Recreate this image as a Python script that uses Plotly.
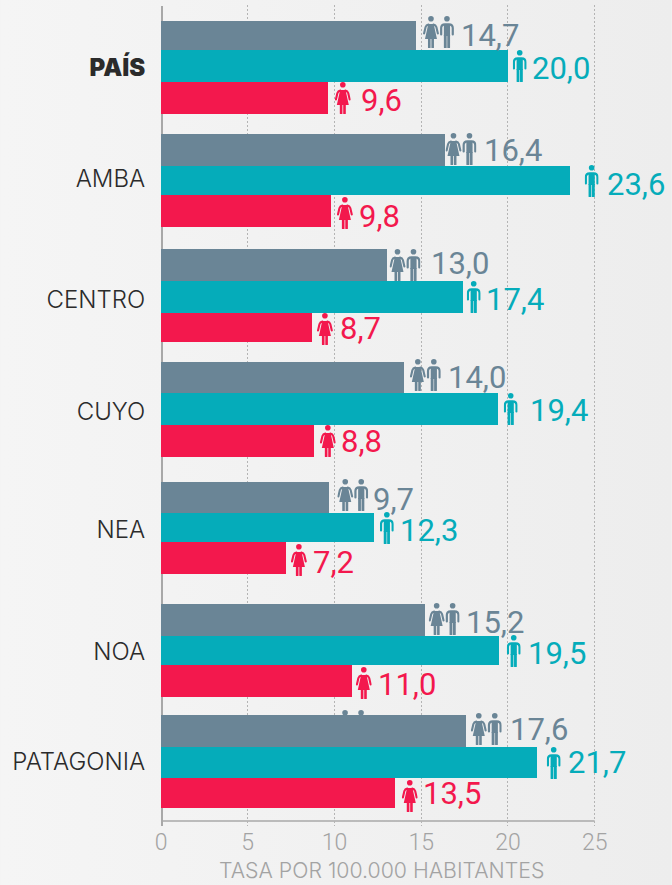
import base64
import plotly.graph_objects as go

categories = ["PAÍS", "AMBA", "CENTRO", "CUYO", "NEA", "NOA", "PATAGONIA"]
total_values = [14.7, 16.4, 13.0, 14.0, 9.7, 15.2, 17.6]
men_values = [20.0, 23.6, 17.4, 19.4, 12.3, 19.5, 21.7]
women_values = [9.6, 9.8, 8.7, 8.8, 7.2, 11.0, 13.5]
x_ticks = [0, 5, 10, 15, 20, 25]
x_title = "TASA POR 100.000 HABITANTES"

GRAY, TEAL, RED = "#6a8596", "#05acba", "#f3184d"
INK, MUTED = "#2b2b2b", "#a3a3a3"
PX = 17.36  # pixels per unit

# Layout (the y axis runs in page pixels so the uneven row spacing is kept)
gray_top = [21, 134, 249, 362, 482, 604, 715]
teal_top = [50, 166, 281, 393, 513, 636, 747]
red_top = [82, 195, 313, 425, 542, 665, 778]
red_bottom = [114, 227, 342, 457, 574, 697, 808]
label_y = [68, 179, 300, 412, 530, 652, 762]

gray_icon_gap = [7, 0, 3, 6, 8, 4, 4.5]
teal_icon_gap = [4.8, 14.3, 3.9, 6.2, 5.5, 7.5, 9.3]
red_icon_gap = [7.3, 5.9, 5, 6.2, 5, 4, 6.6]
gray_icon_top = [16, 133, 249, 359, 479, 603, 713]
teal_icon_top = [50, 165, 281, 393, 512, 635, 747]
red_icon_top = [82, 197, 313, 425, 544, 667, 780]

gray_text_gap = [45.2, 38.7, 44.7, 44.4, 44, 41.5, 43.9]
teal_text_gap = [24.2, 36.7, 23.3, 32.6, 25.9, 28.9, 30.7]
red_text_gap = [33.7, 28.3, 28.4, 27.6, 27.4, 26.4, 28]
gray_text_y = [35, 150, 263, 377, 499, 622, 729]
teal_text_y = [68, 184, 299, 410, 530, 653, 762]
red_text_y = [100, 216, 328, 441, 562, 684, 793]

W, H = 672, 885
M_L, M_R, M_T, M_B = 161, 59.64, 5, 59
DOM_W, DOM_H = W - M_L - M_R, H - M_T - M_B


def uri(svg):
    return "data:image/svg+xml;base64," + base64.b64encode(svg.encode()).decode()


def man(dx, c):
    return (
        f'<g transform="translate({dx},0)" fill="{c}">'
        '<circle cx="7" cy="2.8" r="2.8"/>'
        f'<path d="M1.2 18.5V12Q1.2 8.3 5 8.3H9Q12.8 8.3 12.8 12V18.5" fill="none" stroke="{c}" stroke-width="2.2" stroke-linecap="round"/>'
        '<rect x="3.9" y="8" width="6.2" height="12"/>'
        '<rect x="3.9" y="19" width="2.8" height="13" rx="0.5"/><rect x="7.3" y="19" width="2.8" height="13" rx="0.5"/></g>'
    )


def woman(dx, c):
    return (
        f'<g transform="translate({dx},0)" fill="{c}">'
        '<circle cx="8" cy="2.8" r="2.8"/>'
        f'<path d="M5.5 8.6Q3.3 9 2.6 11L1.1 17.5M10.5 8.6Q12.7 9 13.4 11L14.9 17.5" fill="none" stroke="{c}" stroke-width="2.1" stroke-linecap="round"/>'
        '<path d="M5.3 8H10.7L14 23H2Z"/>'
        '<rect x="5" y="22" width="2.6" height="10" rx="0.5"/><rect x="8.4" y="22" width="2.6" height="10" rx="0.5"/></g>'
    )


def icon(body, w):
    return uri(f'<svg xmlns="http://www.w3.org/2000/svg" viewBox="0 0 {w} 32" width="{w}" height="32" preserveAspectRatio="none">{body}</svg>')


pair_icon = icon(woman(0, GRAY) + man(17, GRAY), 31)
man_icon = icon(man(0, TEAL), 14)
woman_icon = icon(woman(0, RED), 16)
background = uri(
    '<svg xmlns="http://www.w3.org/2000/svg" width="672" height="885" viewBox="0 0 672 885" preserveAspectRatio="none">'
    '<defs><linearGradient id="g"><stop offset="0" stop-color="#f5f5f5"/><stop offset="1" stop-color="#ededed"/></linearGradient></defs>'
    '<rect width="672" height="885" fill="url(#g)"/></svg>'
)

fig = go.Figure()
for vals, tops, bottoms, color, name in [
    (total_values, gray_top, teal_top, GRAY, "Total"),
    (men_values, teal_top, red_top, TEAL, "Varones"),
    (women_values, red_top, red_bottom, RED, "Mujeres"),
]:
    fig.add_trace(go.Bar(
        x=vals,
        y=[(a + b) / 2 for a, b in zip(tops, bottoms)],
        width=[b - a for a, b in zip(tops, bottoms)],
        orientation="h", marker=dict(color=color, line=dict(width=0)),
        name=name, showlegend=False,
    ))

images = [dict(source=background, xref="paper", yref="paper",
               x=-M_L / DOM_W, y=1 + M_T / DOM_H, sizex=W / DOM_W, sizey=H / DOM_H,
               xanchor="left", yanchor="top", sizing="stretch", layer="below")]
annotations = []
for vals, gaps, tops, src, w, tgaps, ys, color in [
    (total_values, gray_icon_gap, gray_icon_top, pair_icon, 31, gray_text_gap, gray_text_y, GRAY),
    (men_values, teal_icon_gap, teal_icon_top, man_icon, 14, teal_text_gap, teal_text_y, TEAL),
    (women_values, red_icon_gap, red_icon_top, woman_icon, 16, red_text_gap, red_text_y, RED),
]:
    for v, g, t, tg, ty in zip(vals, gaps, tops, tgaps, ys):
        images.append(dict(source=src, xref="x", yref="y", x=v + g / PX, y=t, sizex=w / PX, sizey=32,
                           xanchor="left", yanchor="top", sizing="stretch", layer="above"))
        annotations.append(dict(
            x=v, y=ty, xref="x", yref="y", xanchor="left", yanchor="middle", xshift=tg,
            text=f"{v:.1f}".replace(".", ","), showarrow=False, borderpad=0, borderwidth=0,
            font=dict(family="Roboto", weight=400, size=31, color=color),
        ))

# stray icon peeking out above the last grey bar in the original
images.append(dict(source=pair_icon, xref="x", yref="y", x=10.15, y=710, sizex=31 / PX, sizey=32,
                   xanchor="left", yanchor="top", sizing="stretch", layer="below"))

annotations.append(dict(
    x=(381.5 - M_L) / DOM_W, y=-(870 - 826) / DOM_H, xref="paper", yref="paper",
    xanchor="center", yanchor="middle", text=x_title,
    showarrow=False, font=dict(family="Inter", weight=300, size=21.3, color=MUTED),
))

shapes = [
    dict(type="rect", xref="x", yref="y", xsizemode="pixel", xanchor=0, x0=0, x1=2, y0=6, y1=826,
         fillcolor="#a8a8a8", line=dict(width=0), layer="below"),
    dict(type="line", xref="x", yref="y", x0=0, x1=25, y0=821, y1=821,
         line=dict(color="#a8a8a8", width=1.6), layer="below"),
]

ticktext = [
    f'<span style="font-weight:900">{c}</span>' if i == 0 else c
    for i, c in enumerate(categories)
]

fig.update_layout(
    width=W, height=H, autosize=False,
    margin=dict(l=M_L, r=M_R, t=M_T, b=M_B),
    barmode="overlay", bargap=0,
    paper_bgcolor="#f1f1f1", plot_bgcolor="rgba(0,0,0,0)",
    images=images, annotations=annotations, shapes=shapes,
    xaxis=dict(
        range=[0, 26], tickmode="array", tickvals=x_ticks, ticktext=[str(t) for t in x_ticks],
        showgrid=True, gridcolor="#b4b4b4", gridwidth=1.2, griddash="2px,2px",
        zeroline=False, showline=False, ticks="",
        tickfont=dict(family="Roboto", weight=300, size=23, color=MUTED),
    ),
    yaxis=dict(
        range=[826, 5], tickmode="array", tickvals=label_y, ticktext=ticktext,
        showgrid=False, zeroline=False, showline=False,
        ticks="outside", ticklen=10, tickcolor="rgba(0,0,0,0)",
        tickfont=dict(family="Inter", weight=300, size=24, color=INK),
    ),
)

fig.write_html("out.html", config=dict(displayModeBar=False),
               post_script="document.body.style.margin='0';document.documentElement.style.background='#f1f1f1';")
